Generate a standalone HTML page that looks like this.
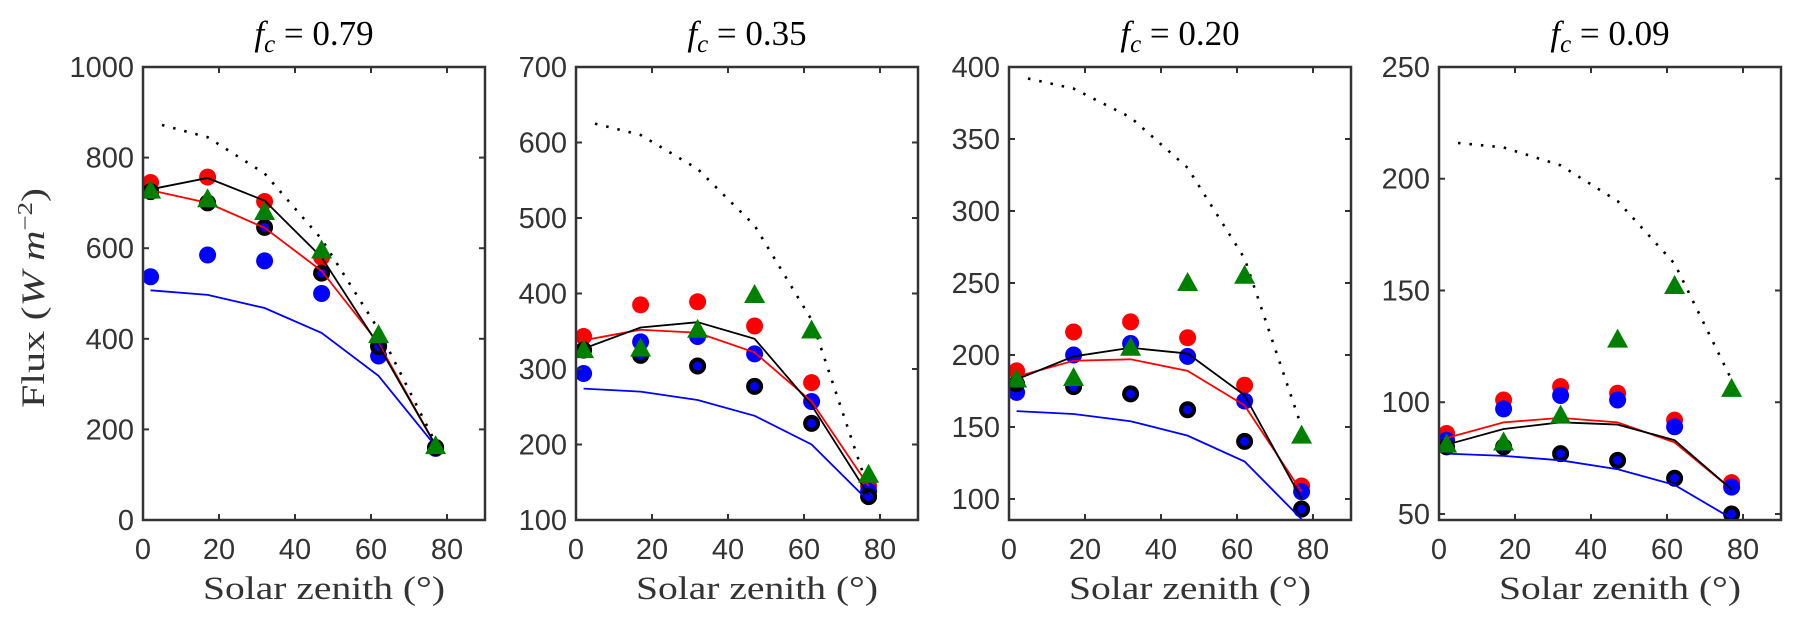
<!DOCTYPE html>
<html><head><meta charset="utf-8"><style>
body{margin:0;background:#fff}
svg{display:block}
.tick{font-family:"Liberation Sans",sans-serif;font-size:29px;fill:#333}
.lab{font-family:"Liberation Serif",serif;font-size:33px;fill:#333}
.ttl{font-family:"Liberation Serif",serif;font-size:35px;fill:#000}
</style></head><body>
<svg id="chart" width="1800" height="624" viewBox="0 0 1800 624" xmlns="http://www.w3.org/2000/svg"></svg>
<script>
const xs = [2,17,32,47,62,77];
const xsDot = [5,17,32,47,62,77];
const titles = ["0.79","0.35","0.20","0.09"];
const yLims = [[0,1000],[100,700],[85.4,400],[47.3,250]];
const yTicks = [[0,200,400,600,800,1000],[100,200,300,400,500,600,700],[100,150,200,250,300,350,400],[50,100,150,200,250]];
const xTicks = [0,20,40,60,80];
const redDots = [[745,757,703,580,385,160],[343,385,389,357,282,145],[189,216,223,212,179,109],[86,101,107,104,92,64]];
const blueDots = [[537,585,572,500,362,158],[294,336,343,320,257,138],[174,200,208,199,168,105],[83,97,103,101,89,62]];
const ringDots = [[725,700,646,545,383,160],[325,318,304,277,228,131],[180,178,173,162,140,93],[80,80,77,74,66,50]];
const greenTri = [[727,708,680,595,408,163],[325,327,352,398,351,160],[183,184,205,250,255,144],[81,82,94,128,152,106]];
const redLine = [[728,700,645,550,390,165],[338,352,348,322,257,145],[185,196,197,189,165,105],[84,91,93,91,82,61]];
const blackLine = [[730,755,705,580,385,165],[327,355,362,340,252,133],[183,199,205,201,172,100],[81,88,91,90,83,61]];
const blueLine = [[507,497,468,413,318,163],[274,270,259,238,200,125],[161,159,154,144,126,86],[77,76,74,70,63,48]];
const dotLine = [[872,845,765,620,420,170],[625,610,565,490,365,140],[392,385,365,330,267,150],[216,214,206,190,162,110]];

const lefts = [143,576,1009,1439];
const W = 342, TOP = 67, BOT = 520;
const NS = "http://www.w3.org/2000/svg";
const svg = document.getElementById('chart');
function mk(tag, attrs, parent){
  const e = document.createElementNS(NS, tag);
  for (const k in attrs) e.setAttribute(k, attrs[k]);
  (parent||svg).appendChild(e);
  return e;
}
for (let p=0;p<4;p++){
  const L = lefts[p], [y0,y1] = yLims[p];
  const sx = v => L + v/90*W;
  const sy = v => BOT - (v-y0)/(y1-y0)*(BOT-TOP);
  const g = mk('g',{});
  
  
  const clipId='c'+p;
  const cp = mk('clipPath',{id:clipId},g);
  mk('rect',{x:L,y:TOP,width:W,height:BOT-TOP},cp);
  const plot = mk('g',{'clip-path':'url(#'+clipId+')'},g);
  
  
  const line = (arr,xarr,color,extra) => {
    const pts = arr.map((v,i)=>sx(xarr[i])+','+sy(v)).join(' ');
    return mk('polyline',Object.assign({points:pts,fill:'none',stroke:color,'stroke-width':1.8},extra||{}),plot);
  };
  let e;
  e = line(dotLine[p],xsDot,'#000',{'stroke-dasharray':'2.5,9','stroke-width':2.6});
  
  
  redDots[p].forEach((v,i)=>{ const c=mk('circle',{cx:sx(xs[i]),cy:sy(v),r:8.5,fill:'#ff0000'},plot);
      });
  blueDots[p].forEach((v,i)=>{ const c=mk('circle',{cx:sx(xs[i]),cy:sy(v),r:8.5,fill:'#0000ff'},plot);
      });
  ringDots[p].forEach((v,i)=>{ const c=mk('circle',{cx:sx(xs[i]),cy:sy(v),r:6.5,fill:'#0000ff',stroke:'#000','stroke-width':4},plot);
      });
  e = line(redLine[p],xs,'#ff0000');  
  e = line(blackLine[p],xs,'#000');  
  e = line(blueLine[p],xs,'#0000ff');  
  greenTri[p].forEach((v,i)=>{ const x=sx(xs[i]), y=sy(v);
    const t=mk('polygon',{points:`${x-10.5},${y+8} ${x+10.5},${y+8} ${x},${y-11}`,fill:'#008000'},plot);
      });
  const box = mk('rect',{x:L,y:TOP,width:W,height:BOT-TOP,fill:'none',stroke:'#333','stroke-width':2.5},g);
   
  xTicks.forEach(t=>{ const x=sx(t);
    mk('line',{x1:x,y1:BOT,x2:x,y2:BOT-6,stroke:'#333','stroke-width':2},g);
    mk('line',{x1:x,y1:TOP,x2:x,y2:TOP+6,stroke:'#333','stroke-width':2},g);
    const tx=mk('text',{x:x,y:BOT+39,'text-anchor':'middle',class:'tick'},g); tx.textContent=t;
      });
  yTicks[p].forEach(t=>{ const y=sy(t);
    mk('line',{x1:L,y1:y,x2:L+6,y2:y,stroke:'#333','stroke-width':2},g);
    mk('line',{x1:L+W,y1:y,x2:L+W-6,y2:y,stroke:'#333','stroke-width':2},g);
    const tx=mk('text',{x:L-9,y:y+10,'text-anchor':'end',class:'tick'},g); tx.textContent=t;
      });
  const xl=mk('text',{x:L+W/2+10,y:BOT+79,'text-anchor':'middle',class:'lab',textLength:242,lengthAdjust:'spacingAndGlyphs'},g);
  xl.textContent='Solar zenith (°)';
   
  const tt=mk('text',{x:L+W/2,y:45,'text-anchor':'middle',class:'ttl'},g);
  tt.innerHTML='<tspan font-style="italic">f</tspan><tspan font-style="italic" font-size="25" dy="7">c</tspan><tspan dy="-7"> = '+titles[p]+'</tspan>';
   
}
const yl = mk('text',{x:0,y:0,transform:'translate(44,298) rotate(-90)','text-anchor':'middle',class:'lab',textLength:220,lengthAdjust:'spacingAndGlyphs'});
yl.innerHTML='Flux (<tspan font-style="italic">W m</tspan><tspan font-size="21" dy="-12">−2</tspan><tspan dy="12">)</tspan>';


</script>
</body></html>
